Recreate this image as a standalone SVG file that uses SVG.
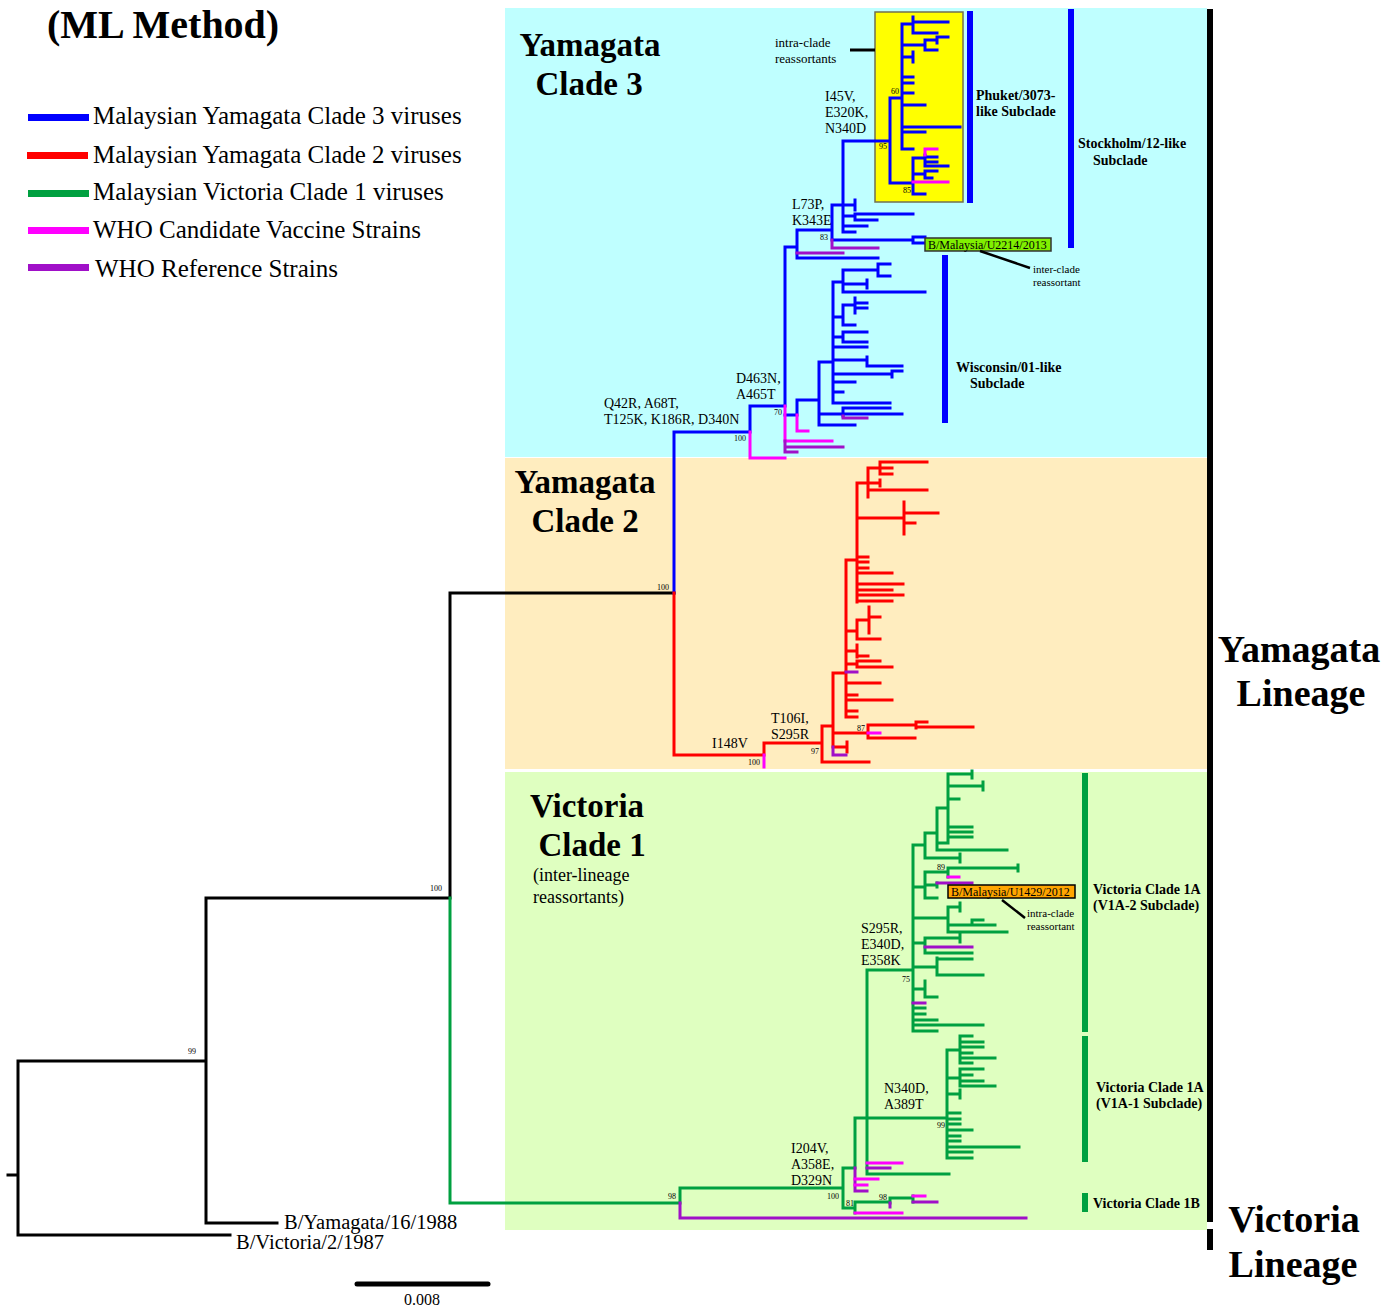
<svg xmlns="http://www.w3.org/2000/svg" width="1393" height="1306" viewBox="0 0 1393 1306">
<style>
.t path{fill:none;stroke-width:3;stroke-linecap:square}
.b{stroke:#0000FF}.r{stroke:#FF0000}.g{stroke:#00A040}.m{stroke:#FF00FF}.p{stroke:#A010C8}.k{stroke:#000}
text{font-family:"Liberation Serif","Times New Roman",serif;fill:#000}
.big{font-size:33px;font-weight:bold}
.lin{font-size:38px;font-weight:bold;text-anchor:middle}
.mut{font-size:14px}
.bs{font-size:8px}
.sub{font-size:14px;font-weight:bold}
.leg{font-size:25px}
.sm{font-size:13px}
.sm2{font-size:11px}
</style>
<rect width="1393" height="1306" fill="#fff"/>
<g id="panels">
<rect x="505" y="8" width="702" height="449" fill="#BFFFFF"/>
<rect x="505" y="458" width="702" height="311" fill="#FFEDBF"/>
<rect x="505" y="772" width="702" height="458" fill="#DFFFC0"/>
<rect x="875" y="12" width="88" height="190" fill="#FFFF00" stroke="#707050" stroke-width="1.5"/>
</g>
<g id="title"><text x="47" y="38" style="font-size:40px;font-weight:bold">(ML Method)</text></g>
<g id="legend">
<rect x="28" y="114" width="61" height="7" fill="#0000FF"/>
<rect x="27" y="152" width="61" height="7" fill="#FF0000"/>
<rect x="28" y="190" width="61" height="7" fill="#00A040"/>
<rect x="28" y="227" width="61" height="7" fill="#FF00FF"/>
<rect x="28" y="264" width="61" height="7" fill="#A010C8"/>
<text class="leg" x="93" y="124">Malaysian Yamagata Clade 3 viruses</text>
<text class="leg" x="93" y="163">Malaysian Yamagata Clade 2 viruses</text>
<text class="leg" x="93" y="200">Malaysian Victoria Clade 1 viruses</text>
<text class="leg" x="93" y="238">WHO Candidate Vaccine Strains</text>
<text class="leg" x="95" y="277">WHO Reference Strains</text>
</g>
<g id="connectors" class="t">
<path class="k" d="M8,1175H18M18,1061V1235M18,1061H206M18,1235H230M206,898V1223M206,898H450M206,1223H277M450,593V898M450,593H674"/>
<path class="b" d="M674,593V432H750M750,432V406H785M785,247V406M785,247H797M797,230V258M797,230H832M797,258H878
M832,205V240M832,205H843M832,240H913M913,237H925M913,237V243H925
M843,141V232M843,141H890M843,205H855M855,200V210M843,216H855M855,214V220M855,214H913M855,220H877M843,226H867M843,232H855
M890,98V183M890,98H902M890,183H913
M902,24V149M902,24H913M913,17V33M913,22H948M913,33H937
M902,45H925M925,40V50M925,40H937M937,37V43M937,37H948M925,50H937
M902,57H913M913,52V62M902,77H913M902,83H913M902,93H913M902,105H925M902,127H960M902,132H925M902,149H913
M913,158V194M913,158H925M925,155V166M925,157H937M925,162H937M925,166H948M913,174H925M925,171V178M925,171H937M925,178H932M913,194H925
M785,415H797M797,400V415M797,400H819M819,362V425M819,362H833M819,414H843M819,425H855
M833,282V403M833,282H843M843,270V292M843,270H878M878,264V276M878,264H890M878,276H890M843,284H867M867,280V288M843,292H925
M833,317H843M843,305V325M843,305H855M855,298V313M855,303H867M855,308H867M843,325H855
M833,337H843M843,332V342M843,332H867M843,342H867M833,347H867
M833,360H867M867,357V366M867,366H902M833,374H892M892,371V377M892,371H902M833,382H855M833,392H843M833,403H890
M843,408V416M843,408H890M843,414H902"/>
<path class="m" d="M750,432V458H785M785,406V441M785,441H832M797,415V431H808M925,149V155M925,149H937M913,182H948"/>
<path class="p" d="M785,441V452M785,447H843M785,452H797M832,240V248H878M797,253H843M843,416V418H867"/>
<path class="r" d="M674,593V755H764M764,755V743H822M822,726V762M822,762H869M822,726H833
M833,673V747M833,673H846M833,733H868M833,747H847M847,742V752
M868,725V738M868,725H916M916,722V728M916,722H927M916,727H973M868,738H915
M846,560V717M846,560H857
M846,631H857M857,620V639M857,620H869M869,607V633M869,617H880M857,639H880
M846,651H857M857,645V657M857,656H868
M846,664H857M857,661V667M857,661H880M857,667H892
M846,683H880M846,695H857M846,700H892M846,711H857M846,717H857
M857,483V602M857,483H868M868,468V497M868,468H880M880,462V474M880,462H927M880,468H892M880,474H892M868,483H880M880,480V486M868,490H927
M857,518H904M904,502V534M904,513H938M904,523H915
M857,557H868M857,562H868M857,568H868M857,573H892M857,584H903M857,590H892M857,595H903M857,601H892"/>
<path class="m" d="M764,755V767M868,733H880"/>
<path class="p" d="M833,747V755H846M846,672H857"/>
<path class="g" d="M450,898V1203H680M680,1203V1188H843M843,1168V1208M843,1168H855M843,1208H855M855,1118V1168M855,1118H947
M867,970V1174M867,970H913M867,1174H949
M855,1202V1213M855,1202H890M890,1198V1203M890,1198H913M913,1196V1202
M947,1050V1158M947,1050H960M960,1036V1063M960,1036H972M960,1042H983M960,1047H983M960,1053H972M960,1058H995M960,1063H972
M947,1078H960M960,1069V1086M960,1069H983M960,1075H972M960,1081H983M960,1086H995
M947,1094H960M960,1090V1098M947,1113H960M947,1119H960M947,1124H960M947,1130H972M947,1136H960M947,1141H960M947,1147H1019M947,1152H972M947,1158H972
M913,845V1031M913,845H925M925,833V858M925,833H937M937,808V850M937,808H948M948,774V842M948,774H972M972,771V778M948,786H983M983,782V790M948,799H959M948,827H972M948,832H972M948,837H972M937,843H948M937,850H1007M925,858H960M960,854V862
M913,887H925M925,872V898M925,872H948M948,868V877M948,868H1018M1018,865V871M925,885H937M937,883V887M925,898H937
M913,918H948M948,907V932M948,907H960M960,903V911M948,925H972M972,920V925M972,920H983M972,925H995M948,932H1007
M913,943H925M925,938V953M925,938H960M960,934V942M925,953H972
M913,967H937M937,958V975M937,959H972M937,975H983
M913,989H925M925,981V997M925,997H937M913,1008H925M913,1014H925M913,1020H937M913,1025H983M913,1031H937"/>
<path class="p" d="M680,1203V1218H1026M855,1168V1191M855,1191H867M867,1168H890M890,1203V1207M913,1202H937M937,883H972M925,947H972M913,1003H925"/>
<path class="m" d="M855,1179H878M855,1185H867M867,1163H902M855,1213H902M913,1196H925M948,877H959"/>
</g>
<g id="bootstrap" class="bs">
<text x="188" y="1054">99</text><text x="430" y="891">100</text><text x="657" y="590">100</text><text x="734" y="441">100</text>
<text x="774" y="415">70</text><text x="820" y="240">83</text><text x="879" y="149">95</text><text x="891" y="94">60</text><text x="903" y="193">85</text>
<text x="748" y="765">100</text><text x="811" y="754">97</text><text x="857" y="731">87</text><text x="937" y="870">89</text><text x="902" y="982">75</text>
<text x="937" y="1128">99</text><text x="668" y="1199">98</text><text x="827" y="1199">100</text><text x="846" y="1206">81</text><text x="879" y="1200">98</text>
</g>
<g id="mutations" class="mut">
<text x="604" y="408">Q42R, A68T,</text><text x="604" y="424">T125K, K186R, D340N</text>
<text x="736" y="383">D463N,</text><text x="736" y="399">A465T</text>
<text x="792" y="209">L73P,</text><text x="792" y="225">K343E</text>
<text x="825" y="101">I45V,</text><text x="825" y="117">E320K,</text><text x="825" y="133">N340D</text>
<text x="712" y="748">I148V</text>
<text x="771" y="723">T106I,</text><text x="771" y="739">S295R</text>
<text x="861" y="933">S295R,</text><text x="861" y="949">E340D,</text><text x="861" y="965">E358K</text>
<text x="884" y="1093">N340D,</text><text x="884" y="1109">A389T</text>
<text x="791" y="1153">I204V,</text><text x="791" y="1169">A358E,</text><text x="791" y="1185">D329N</text>
</g>
<g id="clade3"><text class="big" x="590" y="56" text-anchor="middle">Yamagata</text><text class="big" x="589" y="95" text-anchor="middle">Clade 3</text></g>
<g id="clade2"><text class="big" x="585" y="493" text-anchor="middle">Yamagata</text><text class="big" x="585" y="532" text-anchor="middle">Clade 2</text></g>
<g id="clade1"><text class="big" x="587" y="817" text-anchor="middle">Victoria</text><text class="big" x="592" y="856" text-anchor="middle">Clade 1</text>
<text x="533" y="881" style="font-size:18px">(inter-lineage</text><text x="533" y="903" style="font-size:18px">reassortants)</text></g>
<g id="intra1"><path d="M850,50H875" stroke="#000" stroke-width="3"/><text class="sm" x="775" y="47">intra-clade</text><text class="sm" x="775" y="63">reassortants</text></g>
<g id="u2214"><rect x="925" y="238" width="126" height="13" fill="#80F000" stroke="#333" stroke-width="1.5"/><text x="928" y="249" style="font-size:12px">B/Malaysia/U2214/2013</text>
<path d="M980,251L1030,268" stroke="#000" stroke-width="2.5"/><text class="sm2" x="1033" y="273">inter-clade</text><text class="sm2" x="1033" y="286">reassortant</text></g>
<g id="u1429"><rect x="948" y="885" width="127" height="13" fill="#FFA500" stroke="#000" stroke-width="1.5"/><text x="951" y="896" style="font-size:12px">B/Malaysia/U1429/2012</text>
<path d="M1002,900L1025,918" stroke="#000" stroke-width="2.5"/><text class="sm2" x="1027" y="917">intra-clade</text><text class="sm2" x="1027" y="930">reassortant</text></g>
<g id="subclades">
<rect x="967" y="11" width="6" height="192" fill="#0000FF"/><text class="sub" x="976" y="100">Phuket/3073-</text><text class="sub" x="976" y="116">like Subclade</text>
<rect x="1068" y="9" width="6" height="239" fill="#0000FF"/><text class="sub" x="1078" y="148">Stockholm/12-like</text><text class="sub" x="1093" y="165">Subclade</text>
<rect x="942" y="255" width="6" height="168" fill="#0000FF"/><text class="sub" x="956" y="372">Wisconsin/01-like</text><text class="sub" x="970" y="388">Subclade</text>
<rect x="1082" y="773" width="6" height="259" fill="#00A040"/><text class="sub" x="1093" y="894">Victoria Clade 1A</text><text class="sub" x="1093" y="910">(V1A-2 Subclade)</text>
<rect x="1082" y="1036" width="6" height="126" fill="#00A040"/><text class="sub" x="1096" y="1092">Victoria Clade 1A</text><text class="sub" x="1096" y="1108">(V1A-1 Subclade)</text>
<rect x="1082" y="1193" width="6" height="19" fill="#00A040"/><text class="sub" x="1093" y="1208">Victoria Clade 1B</text>
</g>
<g id="lineages">
<rect x="1207" y="9" width="6" height="1213" fill="#000"/>
<rect x="1207" y="1229" width="6" height="21" fill="#000"/>
<text class="lin" x="1299" y="662">Yamagata</text><text class="lin" x="1301" y="706">Lineage</text>
<text class="lin" x="1294" y="1232">Victoria</text><text class="lin" x="1293" y="1277">Lineage</text>
</g>
<g id="roots">
<text x="284" y="1229" style="font-size:20.5px">B/Yamagata/16/1988</text>
<text x="236" y="1249" style="font-size:20.5px">B/Victoria/2/1987</text>
</g>
<g id="scale"><path d="M357,1284H488" stroke="#000" stroke-width="5" stroke-linecap="round"/><text x="422" y="1305" text-anchor="middle" style="font-size:16px">0.008</text></g>
</svg>
